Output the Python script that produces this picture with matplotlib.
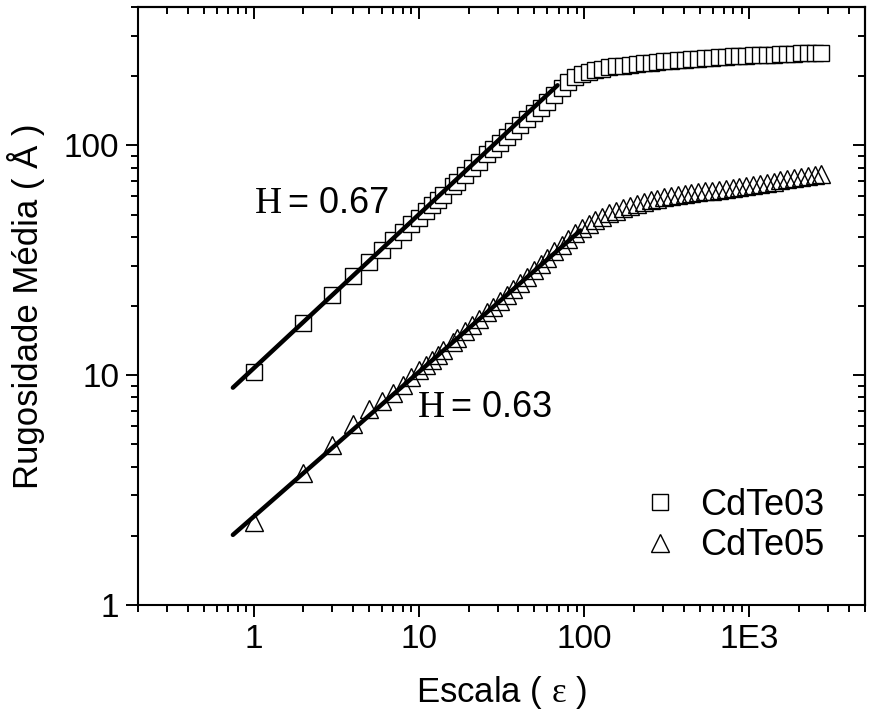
import numpy as np
import matplotlib.pyplot as plt
from matplotlib.ticker import NullFormatter, LogLocator

plt.rcParams['font.family'] = ['Liberation Sans', 'DejaVu Sans']
plt.rcParams['mathtext.fontset'] = 'custom'
plt.rcParams['mathtext.rm'] = 'Liberation Serif'

# escala (epsilon) - same for both samples
eps = [1, 2, 3, 4, 5, 6, 7, 8, 9, 10, 11, 12, 13, 14,
       16, 17, 19, 21, 23, 26, 28, 31, 34, 37,
       41, 45, 50, 55, 60, 66, 73, 80, 88, 97,
       107, 117, 129, 142, 156, 172, 189, 208, 229, 252,
       277, 304, 335, 368, 405, 446, 490, 539, 593, 653,
       718, 790, 869, 956, 1051, 1156, 1272, 1399, 1539, 1693,
       1862, 2048, 2253, 2479, 2726]

# rugosidade media (A)
rug_cdte03 = [10.3, 16.9, 22.4, 26.9, 31.1, 34.9, 38.9, 42.0, 45.5, 48.5, 51.8, 55.0, 58.0, 61.0,
              66.5, 69.0, 74.5, 79.5, 84.5, 91.5, 96.0, 102.5, 109.0, 115.0,
              122.5, 130.0, 138.0, 146.0, 155.0, 165.0, 177.0, 189.0, 199.0, 205.0,
              209.0, 213.0, 216.0, 218.5, 220.5, 222.5, 224.3, 226.0, 227.5, 229.0,
              230.5, 232.0, 233.3, 234.5, 235.7, 237.0, 238.2, 239.4, 240.5, 241.6,
              242.6, 243.6, 244.5, 245.4, 246.2, 247.0, 247.8, 248.5, 249.2, 249.9,
              250.5, 251.1, 251.6, 252.1, 252.5]

rug_cdte05 = [2.30, 3.74, 4.96, 6.12, 7.10, 7.70, 8.40, 9.10, 9.80, 10.5, 11.1, 11.7, 12.3, 12.9,
              14.0, 14.5, 15.6, 16.6, 17.5, 18.9, 19.8, 21.1, 22.4, 23.6,
              25.2, 26.8, 28.7, 30.6, 32.5, 34.6, 37.0, 39.3, 41.5, 43.5,
              45.5, 47.3, 49.0, 50.6, 52.0, 53.3, 54.5, 55.7, 56.8, 57.8,
              58.6, 59.4, 60.1, 60.8, 61.4, 62.0, 62.5, 63.0, 63.5, 64.0,
              64.6, 65.2, 65.9, 66.6, 67.3, 68.0, 68.8, 69.6, 70.4, 71.2,
              72.0, 72.8, 73.5, 74.1, 74.7]

# power law fits  y = A * eps^H
fit03_H, fit03_A, fit03_range = 0.67, 10.7, [0.75, 69]
fit05_H, fit05_A, fit05_range = 0.63, 2.42, [0.75, 95]

x_ticks = [1, 10, 100, 1000]
x_ticklabels = ['1', '10', '100', '1E3']
y_ticks = [1, 10, 100]
y_ticklabels = ['1', '10', '100']

fig = plt.figure(figsize=(8.73, 7.10), dpi=100)
ax = fig.add_axes([138 / 873, 1 - 605 / 710, (865 - 138) / 873, (605 - 7) / 710])

ax.plot(eps, rug_cdte03, ls='none', marker='s', ms=12, mfc='white',
        mec='black', mew=1.0, label='CdTe03')
ax.plot(eps, rug_cdte05, ls='none', marker='^', ms=13.5, mfc='none',
        mec='black', mew=1.0, label='CdTe05')

for H, A, rng in [(fit03_H, fit03_A, fit03_range), (fit05_H, fit05_A, fit05_range)]:
    xf = np.array(rng, dtype=float)
    ax.plot(xf, A * xf ** H, color='black', lw=3.2, solid_capstyle='round')

ax.set_xscale('log')
ax.set_yscale('log')
ax.set_xlim(0.2, 5000)
ax.set_ylim(1, 400)

ax.set_xticks(x_ticks)
ax.set_xticklabels(x_ticklabels)
ax.set_yticks(y_ticks)
ax.set_yticklabels(y_ticklabels)
ax.xaxis.set_minor_locator(LogLocator(subs=np.arange(2, 10)))
ax.yaxis.set_minor_locator(LogLocator(subs=np.arange(2, 10)))
ax.xaxis.set_minor_formatter(NullFormatter())
ax.yaxis.set_minor_formatter(NullFormatter())

for s in ax.spines.values():
    s.set_linewidth(1.5)

ax.tick_params(axis='both', which='major', direction='out', length=8.5, width=1.4,
               labelsize=24, pad=5)
ax.tick_params(axis='both', which='minor', direction='out', length=5, width=1.4)

# mirrored axes with inward ticks
secx = ax.secondary_xaxis('top')
secx.xaxis.set_minor_locator(LogLocator(subs=np.arange(2, 10)))
secx.set_xticks(x_ticks)
secx.tick_params(which='major', direction='in', length=8.5, width=1.4, labeltop=False)
secx.tick_params(which='minor', direction='in', length=5, width=1.4)
secx.xaxis.set_minor_formatter(NullFormatter())
secx.spines['top'].set_linewidth(1.5)

secy = ax.secondary_yaxis('right')
secy.yaxis.set_minor_locator(LogLocator(subs=np.arange(2, 10)))
secy.set_yticks(y_ticks)
secy.tick_params(which='major', direction='in', length=8.5, width=1.4, labelright=False)
secy.tick_params(which='minor', direction='in', length=5, width=1.4)
secy.yaxis.set_minor_formatter(NullFormatter())
secy.spines['right'].set_linewidth(1.5)

ax.set_xlabel(r'Escala ( $\mathrm{ε}$ )', fontsize=25)
ax.set_ylabel('Rugosidade Média ( Å )', fontsize=25)
ax.xaxis.set_label_coords(0.5, -0.115)
ax.yaxis.set_label_coords(-0.128, 0.5)

# H labels: serif H, sans remainder
ax.text(0.161, 0.656, 'H', transform=ax.transAxes, fontsize=27,
        family='Liberation Serif', va='baseline', ha='left')
ax.text(0.207, 0.656, '= 0.67', transform=ax.transAxes, fontsize=26,
        va='baseline', ha='left')
ax.text(0.385, 0.314, 'H', transform=ax.transAxes, fontsize=27,
        family='Liberation Serif', va='baseline', ha='left')
ax.text(0.430, 0.314, '= 0.63', transform=ax.transAxes, fontsize=26,
        va='baseline', ha='left')

ax.legend(loc='lower right', bbox_to_anchor=(0.944, 0.07), frameon=False,
          fontsize=26, handlelength=1.0, handletextpad=0.6, labelspacing=0.15,
          borderaxespad=0, borderpad=0)

fig.savefig('out.png', dpi=100)
